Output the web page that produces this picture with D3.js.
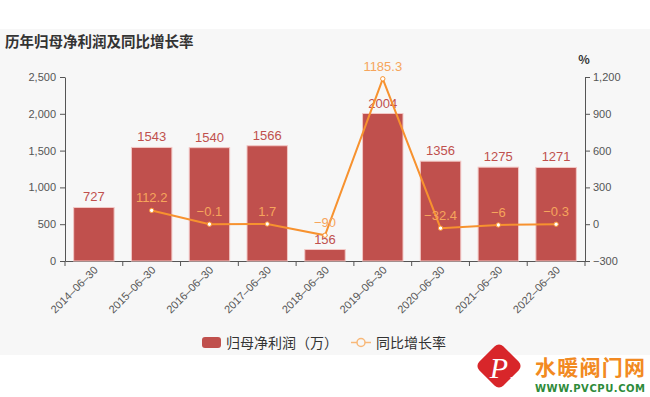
<!DOCTYPE html>
<html lang="zh">
<head>
<meta charset="UTF-8">
<title>历年归母净利润及同比增长率</title>
<script src="https://d3js.org/d3.v7.min.js"></script>
<style>
    body { margin: 0; background: #fff; font-family: "Noto Sans CJK SC", "Noto Sans", sans-serif; }
    .tick text { font-size: 11px; fill: #555; font-family: "Liberation Sans", Arial, sans-serif; }
    .domain, .tick line { stroke: #555; }
</style>
</head>
<body>
<div id="chart"></div>
<script>
    // data
    var dates = ["2014-06-30", "2015-06-30", "2016-06-30", "2017-06-30", "2018-06-30",
                 "2019-06-30", "2020-06-30", "2021-06-30", "2022-06-30"];
    var profit = [727, 1543, 1540, 1566, 156, 2004, 1356, 1275, 1271];
    var growth = [null, 112.2, -0.1, 1.7, -90, 1185.3, -32.4, -6, -0.3];
    var leftTicks = [0, 500, 1000, 1500, 2000, 2500];
    var rightTicks = [-300, 0, 300, 600, 900, 1200];

    var W = 650, H = 397;
    var svg = d3.select("#chart").append("svg").attr("width", W).attr("height", H);

    svg.append("rect").attr("x", 0).attr("y", 29).attr("width", W).attr("height", 326).attr("fill", "#f7f7f7");

    svg.append("text").attr("x", 5).attr("y", 47)
        .style("font-size", "14.5px").style("font-weight", "bold").attr("fill", "#333")
        .text("历年归母净利润及同比增长率");

    var x = d3.scaleBand().domain(dates).range([65, 585]).paddingInner(0.3).paddingOuter(0.15);
    var xb = d3.scaleBand().domain(dates).range([65, 585]);
    var y = d3.scaleLinear().domain([0, 2500]).range([261, 77]);
    var y2 = d3.scaleLinear().domain([-300, 1200]).range([261, 77]);

    // axes
    var gx = svg.append("g").attr("transform", "translate(0,261)")
        .call(d3.axisBottom(xb).tickSize(0).tickSizeOuter(0).tickFormat(""));
    gx.selectAll(".bt").data(d3.range(dates.length + 1)).enter().append("line")
        .attr("x1", i => 65 + i * xb.step()).attr("x2", i => 65 + i * xb.step())
        .attr("y1", 0).attr("y2", 5).attr("stroke", "#555");
    svg.append("g").selectAll("text").data(dates).enter().append("text")
        .attr("transform", d => `translate(${xb(d) + xb.bandwidth() / 2 + 2},268) rotate(-45)`)
        .attr("text-anchor", "end").attr("dy", "0.35em")
        .style("font-size", "11px").style("font-family", "Liberation Sans, Arial, sans-serif")
        .attr("fill", "#555").text(d => d.replace(/-/g, "\u2013"));

    svg.append("g").attr("transform", "translate(65,0)")
        .call(d3.axisLeft(y).tickValues(leftTicks).tickSize(5).tickSizeOuter(0).tickPadding(4).tickFormat(d3.format(",")));
    svg.append("g").attr("transform", "translate(585,0)")
        .call(d3.axisRight(y2).tickValues(rightTicks).tickSize(5).tickSizeOuter(0).tickPadding(3)
            .tickFormat(d => d3.format(",")(d).replace("-", "\u2212")));
    svg.append("text").attr("x", 584).attr("y", 64).attr("text-anchor", "middle")
        .style("font-size", "12px").style("font-weight", "bold").attr("fill", "#333").text("%");

    // bars
    svg.selectAll(".bar").data(profit).enter().append("rect")
        .attr("x", (d, i) => x(dates[i])).attr("width", x.bandwidth())
        .attr("y", d => y(d)).attr("height", d => 261 - y(d))
        .attr("fill", "#c0504d").attr("stroke", "#f2c7c5").attr("stroke-width", 1);
    svg.selectAll(".blab").data(profit).enter().append("text")
        .attr("x", (d, i) => x(dates[i]) + x.bandwidth() / 2).attr("y", d => y(d) - 6)
        .attr("text-anchor", "middle").style("font-size", "13px")
        .style("font-family", "Liberation Sans, Arial, sans-serif")
        .attr("fill", "#c0504d").text(d => d);

    // growth line
    var pts = growth.map((v, i) => ({ d: dates[i], v: v })).filter(p => p.v !== null);
    var line = d3.line().x(p => xb(p.d) + xb.bandwidth() / 2).y(p => y2(p.v));
    svg.append("path").datum(pts).attr("d", line)
        .attr("fill", "none").attr("stroke", "#f7922f").attr("stroke-width", 2);
    svg.selectAll(".dot").data(pts).enter().append("circle")
        .attr("cx", p => xb(p.d) + xb.bandwidth() / 2).attr("cy", p => y2(p.v)).attr("r", 2.2)
        .attr("fill", "#fff").attr("stroke", "#f7922f").attr("stroke-width", 1);
    svg.selectAll(".glab").data(pts).enter().append("text")
        .attr("x", p => xb(p.d) + xb.bandwidth() / 2).attr("y", p => y2(p.v) - 8)
        .attr("text-anchor", "middle").style("font-size", "13px")
        .style("font-family", "Liberation Sans, Arial, sans-serif")
        .attr("fill", "#f6a55c").text(p => String(p.v).replace("-", "\u2212"));

    // legend
    var lg = svg.append("g").style("font-size", "14px").attr("fill", "#333");
    lg.append("rect").attr("x", 202).attr("y", 337).attr("width", 19).attr("height", 11).attr("rx", 3).attr("fill", "#c0504d");
    lg.append("text").attr("x", 226).attr("y", 348).text("归母净利润（万）");
    lg.append("line").attr("x1", 351).attr("x2", 371).attr("y1", 342.5).attr("y2", 342.5).attr("stroke", "#f8b878").attr("stroke-width", 1.5);
    lg.append("circle").attr("cx", 361).attr("cy", 342.5).attr("r", 4).attr("fill", "#f7f7f7").attr("stroke", "#f8b878").attr("stroke-width", 1.5);
    lg.append("text").attr("x", 376).attr("y", 348).text("同比增长率");

    // watermark
    var wm = svg.append("g");
    wm.append("rect").attr("x", -17).attr("y", -17).attr("width", 34).attr("height", 34).attr("rx", 6)
        .attr("transform", "translate(499,366) rotate(45)").attr("fill", "#d8262a");
    wm.append("text").attr("x", 499).attr("y", 378).attr("text-anchor", "middle")
        .style("font-family", "Liberation Serif, serif").style("font-style", "italic").style("font-size", "30px")
        .attr("fill", "#fff").text("P");
    wm.append("text").attr("x", 513).attr("y", 384).attr("text-anchor", "middle")
        .style("font-family", "Liberation Serif, serif").style("font-style", "italic").style("font-size", "14px")
        .attr("fill", "#fff").text("v");
    wm.append("text").attr("x", 535).attr("y", 375).attr("textLength", 110)
        .style("font-size", "21px").style("font-weight", "bold").attr("fill", "#f28a22").text("水暖阀门网");
    wm.append("text").attr("x", 535).attr("y", 392).attr("textLength", 110)
        .style("font-family", "DejaVu Sans, sans-serif").style("font-size", "10px").style("font-weight", "bold")
        .attr("fill", "#2e8b3a").text("WWW.PVCPU.COM");
</script>
</body>
</html>
